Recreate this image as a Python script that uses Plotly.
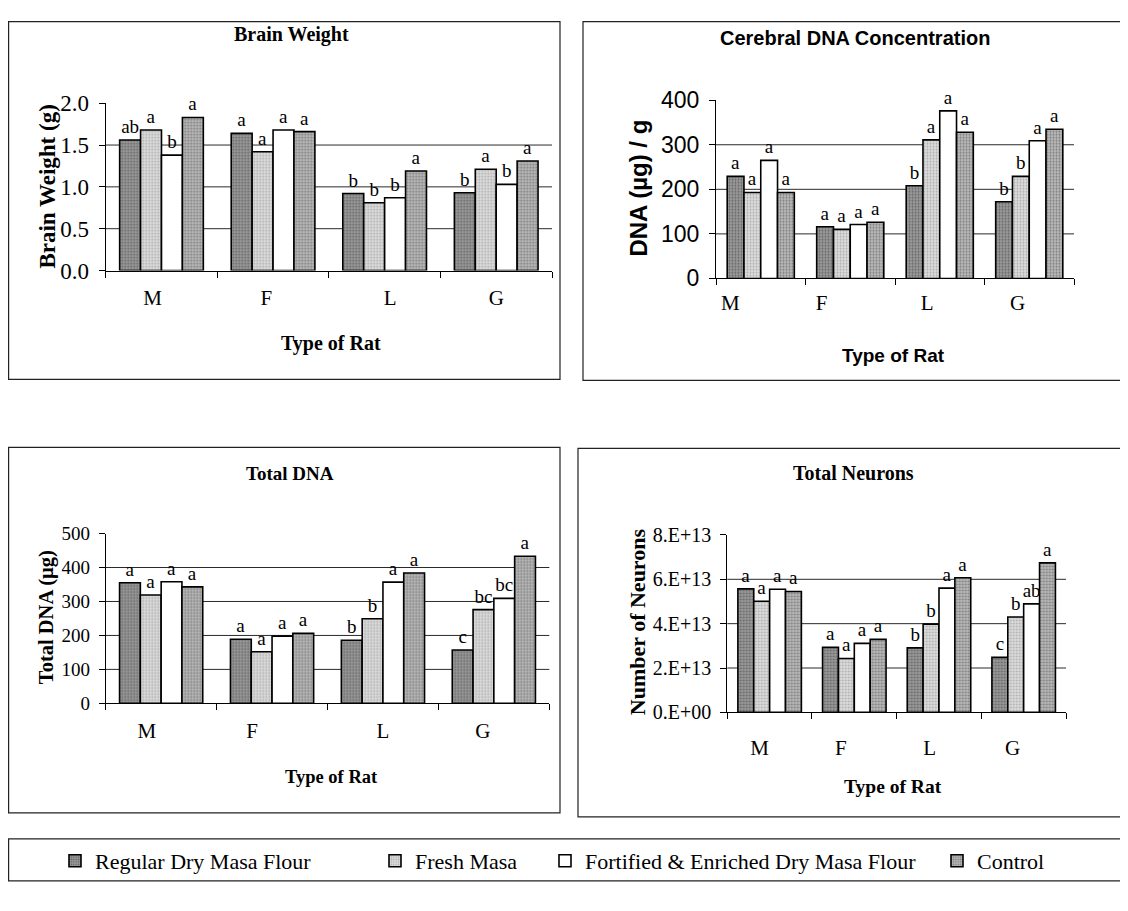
import plotly.graph_objects as go

# ---------------- data ----------------
categories = ["M", "F", "L", "G"]
series_names = ["Regular Dry Masa Flour", "Fresh Masa",
                "Fortified & Enriched Dry Masa Flour", "Control"]

# Brain weight (g)
bw_regular = [1.56, 1.64, 0.92, 0.93]
bw_fresh = [1.68, 1.42, 0.81, 1.21]
bw_fortified = [1.38, 1.68, 0.87, 1.03]
bw_control = [1.83, 1.66, 1.19, 1.31]
bw_let_regular = ["ab", "a", "b", "b"]
bw_let_fresh = ["a", "a", "b", "a"]
bw_let_fortified = ["b", "a", "b", "b"]
bw_let_control = ["a", "a", "a", "a"]

# Cerebral DNA concentration (ug/g)
cd_regular = [229, 116, 208, 172]
cd_fresh = [193, 110, 311, 229]
cd_fortified = [265, 121, 376, 309]
cd_control = [193, 126, 328, 335]
cd_let_regular = ["a", "a", "b", "b"]
cd_let_fresh = ["a", "a", "a", "b"]
cd_let_fortified = ["a", "a", "a", "a"]
cd_let_control = ["a", "a", "a", "a"]

# Total DNA (ug)
td_regular = [355, 189, 186, 157]
td_fresh = [319, 152, 249, 276]
td_fortified = [358, 198, 357, 309]
td_control = [343, 206, 384, 433]
td_let_regular = ["a", "a", "b", "c"]
td_let_fresh = ["a", "a", "b", "bc"]
td_let_fortified = ["a", "a", "a", "bc"]
td_let_control = ["a", "a", "a", "a"]

# Total neurons
tn_regular = [5.57e13, 2.93e13, 2.91e13, 2.48e13]
tn_fresh = [5.01e13, 2.43e13, 3.98e13, 4.30e13]
tn_fortified = [5.55e13, 3.11e13, 5.60e13, 4.89e13]
tn_control = [5.45e13, 3.29e13, 6.07e13, 6.74e13]
tn_let_regular = ["a", "a", "b", "c"]
tn_let_fresh = ["a", "a", "b", "b"]
tn_let_fortified = ["a", "a", "a", "ab"]
tn_let_control = ["a", "a", "a", "a"]

bw_ticks = [0.0, 0.5, 1.0, 1.5, 2.0]
cd_ticks = [0, 100, 200, 300, 400]
td_ticks = [0, 100, 200, 300, 400, 500]
tn_ticks = [0, 2e13, 4e13, 6e13, 8e13]
tn_ticktext = ["0.E+00", "2.E+13", "4.E+13", "6.E+13", "8.E+13"]

# ---------------- styling ----------------
W, H = 1128, 911
SERIF = "Liberation Serif"
SANS = "Liberation Sans"

# screen position (reference pixels) -> paper fraction
OFF_X, OFF_Y, SCALE_Y = 8.0, 20.2, 0.9725


def px(x):
    return (x - OFF_X) / W


def py(y):
    return 1 - ((y - OFF_Y) / SCALE_Y) / H


styles = [
    dict(color="#8e8e8e", pattern=dict(shape=".", fgcolor="#303030", bgcolor="#9a9a9a", size=3, solidity=0.35)),
    dict(color="#d2d2d2", pattern=dict(shape=".", fgcolor="#7a7a7a", bgcolor="#dcdcdc", size=3, solidity=0.3)),
    dict(color="#ffffff"),
    dict(color="#a8a8a8", pattern=dict(shape=".", fgcolor="#404040", bgcolor="#b8b8b8", size=3, solidity=0.35)),
]

panels = [
    dict(series=[bw_regular, bw_fresh, bw_fortified, bw_control],
         letters=[bw_let_regular, bw_let_fresh, bw_let_fortified, bw_let_control],
         xdom=(105.7, 552), ydom=(270, 102.5), yrange=[0, 2.0],
         yticks=bw_ticks, yticktext=["%.1f" % v for v in bw_ticks], grid=[0.5, 1.0, 1.5],
         ytickfont=dict(family=SERIF, size=23), xlabpos=[-0.08, 0.94, 2.05, 3.0],
         title="Brain Weight", title_xy=(291, 34), title_font=dict(family=SERIF, size=20, color="black"),
         ytitle="<b>Brain Weight (g)</b>", ytitle_xy=(48, 186), ytitle_font=dict(family=SERIF, size=23, color="black"),
         xtitle="Type of Rat", xtitle_xy=(331, 343), xtitle_font=dict(family=SERIF, size=20, color="black"),
         xlab_len=8),
    dict(series=[cd_regular, cd_fresh, cd_fortified, cd_control],
         letters=[cd_let_regular, cd_let_fresh, cd_let_fortified, cd_let_control],
         xdom=(716, 1074), ydom=(277.9, 99.5), yrange=[0, 400],
         yticks=cd_ticks, yticktext=[str(v) for v in cd_ticks], grid=[100, 200, 300],
         ytickfont=dict(family=SANS, size=23), xlabpos=[-0.34, 0.68, 1.86, 2.87],
         title="Cerebral DNA Concentration", title_xy=(855, 37), title_font=dict(family=SANS, size=20, color="black"),
         ytitle="<b>DNA (µg) / g</b>", ytitle_xy=(639, 188), ytitle_font=dict(family=SANS, size=24, color="black"),
         xtitle="Type of Rat", xtitle_xy=(893, 355), xtitle_font=dict(family=SANS, size=19, color="black"),
         xlab_len=5),
    dict(series=[td_regular, td_fresh, td_fortified, td_control],
         letters=[td_let_regular, td_let_fresh, td_let_fortified, td_let_control],
         xdom=(105.7, 549.3), ydom=(703.3, 533.3), yrange=[0, 500],
         yticks=td_ticks, yticktext=[str(v) for v in td_ticks], grid=[100, 200, 300, 400],
         ytickfont=dict(family=SERIF, size=19), xlabpos=[-0.13, 0.82, 2.0, 2.9],
         title="Total DNA", title_xy=(290, 473), title_font=dict(family=SERIF, size=19, color="black"),
         ytitle="<b>Total DNA (µg)</b>", ytitle_xy=(46, 617), ytitle_font=dict(family=SERIF, size=20.5, color="black"),
         xtitle="Type of Rat", xtitle_xy=(331, 777), xtitle_font=dict(family=SERIF, size=18.5, color="black"),
         xlab_len=8),
    dict(series=[tn_regular, tn_fresh, tn_fortified, tn_control],
         letters=[tn_let_regular, tn_let_fresh, tn_let_fortified, tn_let_control],
         xdom=(727.3, 1066), ydom=(712.3, 534.7), yrange=[0, 8e13],
         yticks=tn_ticks, yticktext=tn_ticktext, grid=[2e13, 4e13, 6e13],
         ytickfont=dict(family=SERIF, size=20), xlabpos=[-0.12, 0.84, 1.89, 2.87],
         title="Total Neurons", title_xy=(853, 473), title_font=dict(family=SERIF, size=20, color="black"),
         ytitle="<b>Number of Neurons</b>", ytitle_xy=(637, 622), ytitle_font=dict(family=SERIF, size=22, color="black"),
         xtitle="Type of Rat", xtitle_xy=(893, 787), xtitle_font=dict(family=SERIF, size=19.5, color="black"),
         xlab_len=16),
]

fig = go.Figure()
layout = dict(width=W, height=H, margin=dict(l=0, r=0, t=0, b=0),
              paper_bgcolor="white", plot_bgcolor="rgba(0,0,0,0)",
              barmode="group", bargap=0.25, bargroupgap=0.0, showlegend=True)
shapes = []
annotations = []
xpos = list(range(len(categories)))

for i, p in enumerate(panels):
    sfx = "" if i == 0 else str(i + 1)
    xa, ya = "x" + sfx, "y" + sfx
    for s in range(4):
        leg = "legend" if s == 0 else "legend%d" % (s + 1)
        fig.add_trace(go.Bar(
            x=xpos, y=p["series"][s], name=series_names[s],
            xaxis=xa, yaxis=ya,
            marker=dict(line=dict(color="black", width=1.6), **styles[s]),
            text=p["letters"][s], textposition="outside", cliponaxis=False,
            constraintext="none",
            textfont=dict(family=SERIF, size=19, color="black"),
            showlegend=(i == 0), legend=leg, hoverinfo="skip",
        ))
    layout["xaxis" + sfx] = dict(
        domain=[px(p["xdom"][0]), px(p["xdom"][1])], anchor=ya,
        range=[-0.5, 3.5], showgrid=False, zeroline=False,
        showline=True, linecolor="black", linewidth=1,
        tickmode="array", tickvals=p["xlabpos"], ticktext=categories,
        ticks="outside", ticklen=p["xlab_len"], tickcolor="rgba(0,0,0,0)",
        tickfont=dict(family=SERIF, size=21, color="black"),
        minor=dict(tickmode="array", tickvals=[-0.5, 0.5, 1.5, 2.5, 3.5],
                   ticks="outside", ticklen=6, tickcolor="black", tickwidth=1, showgrid=False),
        fixedrange=True,
    )
    layout["yaxis" + sfx] = dict(
        domain=[py(p["ydom"][0]), py(p["ydom"][1])], anchor=xa,
        range=p["yrange"], showgrid=False, zeroline=False,
        showline=True, linecolor="black", linewidth=1,
        tickmode="array", tickvals=p["yticks"], ticktext=p["yticktext"],
        ticks="outside", ticklen=6, tickcolor="black",
        ticklabelstandoff=5,
        tickfont=dict(color="black", **p["ytickfont"]),
        fixedrange=True,
    )
    for g in p["grid"]:
        shapes.append(dict(type="line", xref=xa + " domain", yref=ya, x0=0, x1=1, y0=g, y1=g,
                           line=dict(color="#2a2a2a", width=1), layer="below"))
    annotations.append(dict(text="<b>%s</b>" % p["title"], x=px(p["title_xy"][0]), y=py(p["title_xy"][1]),
                            xref="paper", yref="paper", showarrow=False, font=p["title_font"],
                            xanchor="center", yanchor="middle"))
    annotations.append(dict(text=p["ytitle"], x=px(p["ytitle_xy"][0]), y=py(p["ytitle_xy"][1]),
                            xref="paper", yref="paper", showarrow=False, font=p["ytitle_font"],
                            textangle=-90, xanchor="center", yanchor="middle"))
    annotations.append(dict(text="<b>%s</b>" % p["xtitle"], x=px(p["xtitle_xy"][0]), y=py(p["xtitle_xy"][1]),
                            xref="paper", yref="paper", showarrow=False, font=p["xtitle_font"],
                            xanchor="center", yanchor="middle"))

# panel frames (clamped to the visible page)
for (x0, y0, x1, y1) in [(8.6, 20.8, 560, 379), (583, 20.8, 1160, 380), (8.6, 447, 560, 813),
                         (578, 448, 1160, 817), (8.6, 839, 1160, 881)]:
    shapes.append(dict(type="rect", xref="paper", yref="paper", x0=px(x0), x1=px(x1), y0=py(y0), y1=py(y1),
                       line=dict(color="#222222", width=1.2), fillcolor="rgba(0,0,0,0)", layer="below"))

# legends (one per series, placed along the bottom frame)
legend_x = [55, 375, 545, 937]
for s in range(4):
    key = "legend" if s == 0 else "legend%d" % (s + 1)
    layout[key] = dict(x=px(legend_x[s]), y=py(861), xanchor="left", yanchor="middle",
                       orientation="h", bgcolor="rgba(0,0,0,0)", borderwidth=0,
                       font=dict(family=SERIF, size=22, color="black"),
                       itemclick=False, itemdoubleclick=False)

layout["shapes"] = shapes
layout["annotations"] = annotations
fig.update_layout(**layout)
fig.write_html("out.html")
